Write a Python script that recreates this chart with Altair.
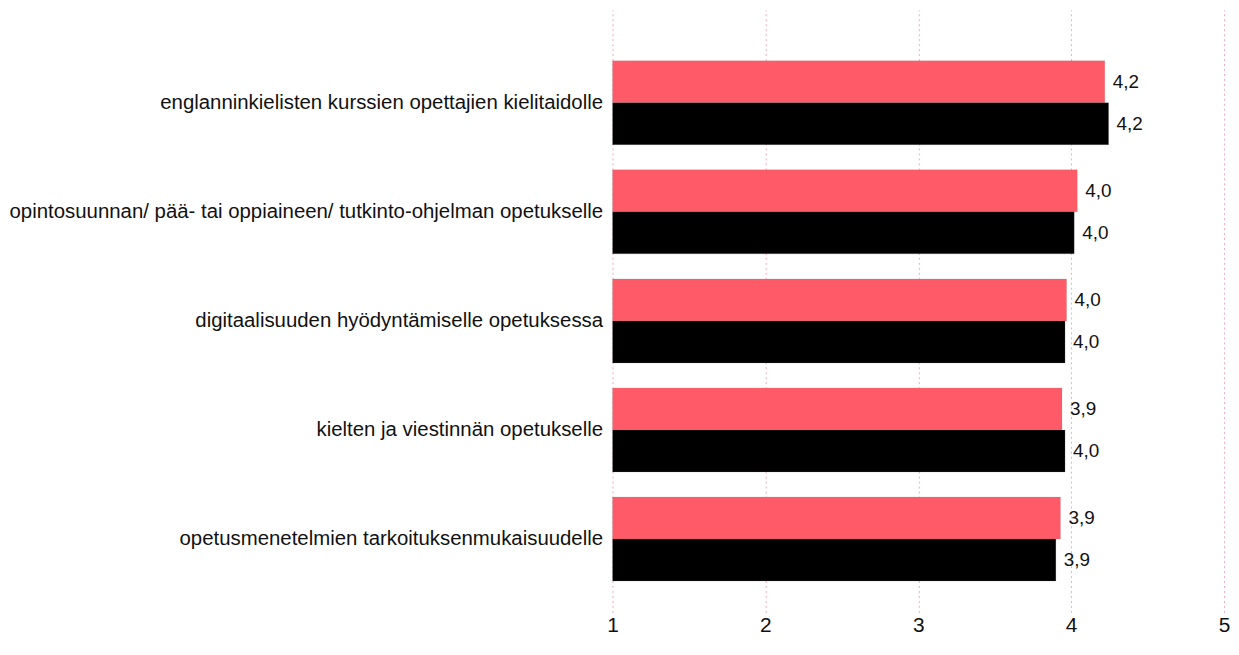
import altair as alt
import pandas as pd

categories = [
    "englanninkielisten kurssien opettajien kielitaidolle",
    "opintosuunnan/ pää- tai oppiaineen/ tutkinto-ohjelman opetukselle",
    "digitaalisuuden hyödyntämiselle opetuksessa",
    "kielten ja viestinnän opetukselle",
    "opetusmenetelmien tarkoituksenmukaisuudelle",
]
series_names = ["Sarja 1", "Sarja 2"]
series1_values = [4.22, 4.04, 3.97, 3.94, 3.93]
series2_values = [4.245, 4.02, 3.96, 3.96, 3.90]
x_ticks = [1, 2, 3, 4, 5]
colors = ["#FF5A67", "#000000"]

rows = []
for c, a, b in zip(categories, series1_values, series2_values):
    rows.append({"kategoria": c, "sarja": series_names[0], "arvo": a})
    rows.append({"kategoria": c, "sarja": series_names[1], "arvo": b})
df = pd.DataFrame(rows)

FONT = "Liberation Sans"

y_scale = alt.Scale(paddingInner=0.23, paddingOuter=0.377, align=0.62)
x_scale = alt.Scale(domain=[1, 5], zero=False, nice=False)
off_scale = alt.Scale(paddingInner=0, paddingOuter=0)

y_axis = alt.Axis(
    title=None, domain=False, ticks=False, grid=False, labelPadding=10,
    labelFontSize=20.5, labelColor="#111111", labelFont=FONT, labelLimit=800,
)
x_axis = alt.Axis(
    title=None, values=x_ticks, format="d", domain=False, ticks=False,
    labelPadding=2, labelFontSize=21, labelColor="#111111", labelFont=FONT,
    labelFlush=False,
    grid=True, gridColor="#F3A8BC", gridDash=[2, 3], gridWidth=1,
)

base = alt.Chart(df)
bars = base.mark_bar(stroke="#888888", strokeWidth=0.4, strokeOpacity=0.5).encode(
    y=alt.Y("kategoria:N", sort=categories, scale=y_scale, axis=y_axis),
    yOffset=alt.YOffset("sarja:N", sort=series_names, scale=off_scale),
    x=alt.X("arvo:Q", scale=x_scale, axis=x_axis),
    x2=alt.datum(1),
    color=alt.Color("sarja:N", sort=series_names,
                    scale=alt.Scale(domain=series_names, range=colors), legend=None),
)
labels = base.transform_calculate(
    teksti="replace(format(datum.arvo, '.1f'), '.', ',')"
).mark_text(align="left", baseline="middle", dx=8, fontSize=19, font=FONT, color="#111111").encode(
    y=alt.Y("kategoria:N", sort=categories, scale=y_scale, axis=y_axis),
    yOffset=alt.YOffset("sarja:N", sort=series_names, scale=off_scale),
    x=alt.X("arvo:Q", scale=x_scale, axis=x_axis),
    text="teksti:N",
)

chart = (
    alt.layer(bars, labels)
    .properties(
        width=615, height=606,
        background="white",
        autosize=alt.AutoSizeParams(type="none"),
        padding={"left": 608, "top": 0, "right": 7, "bottom": 27},
    )
    .configure_view(stroke="transparent", strokeWidth=0)
)

chart.save("out.html", embed_options={"renderer": "svg", "actions": False})
